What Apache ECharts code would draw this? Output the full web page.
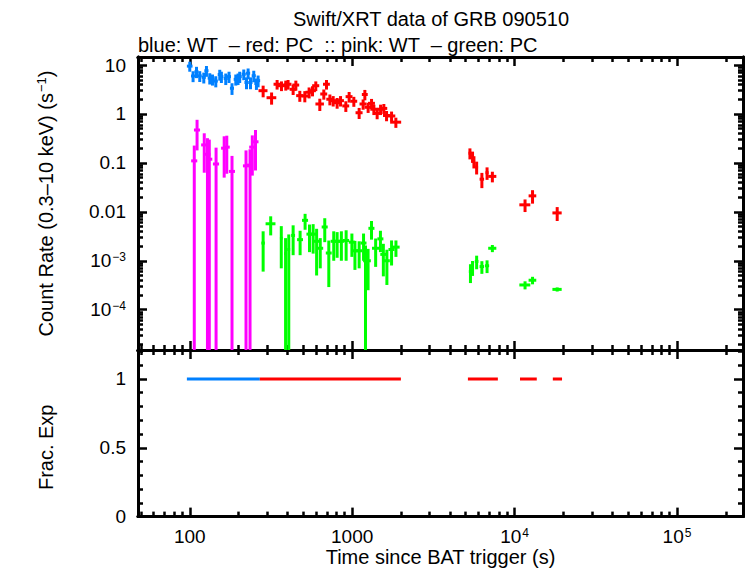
<!DOCTYPE html>
<html>
<head>
<meta charset="utf-8">
<script src="https://cdn.jsdelivr.net/npm/echarts@6/dist/echarts.min.js"></script>
<style>
html,body{margin:0;padding:0;background:#fff}
#chart{width:746px;height:568px}
</style>
</head>
<body>
<div id="chart"></div>
<script>
// [time (s), time half-width, rate, rate error]
var blueWT = [
    [100, 4, 9.5, 2.2], [104.8, 3, 5.97, 1.5], [110, 3.2, 7.3, 1.9], [115.2, 3.3, 6.0, 1.5],
    [122, 3.5, 5.6, 1.4], [126.7, 3.7, 7.65, 1.9], [132.8, 3.9, 5.4, 1.4], [138, 4, 5.1, 1.3],
    [144.6, 4.2, 4.7, 1.2], [153, 4.4, 6.4, 1.6], [156.6, 4.5, 5.8, 1.5], [166.6, 4.8, 5.3, 1.4],
    [174.5, 5, 5.8, 1.5], [182, 5.3, 3.35, 0.9], [192, 5.6, 5.1, 1.3], [198.3, 5.7, 5.3, 1.4],
    [203, 5.9, 5.8, 1.5], [215, 6.2, 6.5, 1.6], [223.6, 6.5, 4.4, 1.2], [228.7, 6.6, 6.8, 1.7],
    [236.5, 6.9, 4.4, 1.2], [247.8, 7.2, 6.05, 1.6], [257.3, 7.5, 4.2, 1.1], [263.5, 7.7, 4.8, 1.3]
];
var redPC = [
    [283, 18, 2.99, 0.8], [319, 22, 2.15, 0.6], [345, 17, 4.05, 0.9], [367, 18, 3.78, 0.85],
    [390, 19, 3.9, 0.9], [403, 20, 4.05, 0.9], [433, 21, 3.19, 0.75], [450, 22, 3.9, 0.9],
    [476, 24, 2.37, 0.6], [511, 25, 2.33, 0.6], [543, 27, 2.78, 0.7], [570, 28, 2.99, 0.7],
    [597, 30, 3.78, 0.85], [632, 38, 1.6, 0.45], [669, 33, 2.56, 0.6], [695, 34, 4.05, 0.9],
    [729, 36, 2.0, 0.5], [764, 38, 1.87, 0.45], [808, 40, 1.7, 0.42], [848, 42, 1.87, 0.45],
    [914, 45, 1.46, 0.36], [958, 47, 2.26, 0.55], [1024, 50, 1.82, 0.42], [1104, 55, 1.06, 0.27],
    [1168, 58, 1.6, 0.38], [1197, 50, 2.5, 0.6], [1254, 62, 1.37, 0.32], [1316, 65, 1.65, 0.38],
    [1360, 67, 1.25, 0.3], [1425, 70, 1.03, 0.25], [1496, 74, 1.25, 0.3], [1567, 77, 1.3, 0.3],
    [1628, 80, 0.93, 0.22], [1748, 95, 0.91, 0.21], [1858, 145, 0.68, 0.16],
    [5310, 110, 0.158, 0.04], [5510, 90, 0.135, 0.035], [5620, 90, 0.107, 0.03],
    [5840, 120, 0.082, 0.024], [6290, 200, 0.0465, 0.016], [6770, 150, 0.063, 0.018],
    [7300, 420, 0.053, 0.013], [11600, 900, 0.0139, 0.004], [12900, 700, 0.0212, 0.0065],
    [18300, 1200, 0.0095, 0.003]
];
var pinkWT = [
    [106.6, 4.6, 0.110, 0.116], [110.9, 4.8, 0.47, 0.29], [122.8, 5.3, 0.233, 0.17],
    [128.5, 5.5, 0.15, 0.17], [131.9, 5.7, 0.119, 0.18], [145.2, 6.3, 0.095, 0.11],
    [162.9, 7, 0.20, 0.15], [169, 7.3, 0.21, 0.15], [182, 7.8, 0.067, 0.072],
    [222, 9.5, 0.087, 0.093], [235, 10, 0.09, 0.10], [242.7, 10.5, 0.21, 0.155],
    [254, 11, 0.27, 0.20]
];
var greenPC = [
    [283, 7, 2.3e-3, 1.7e-3], [315, 22, 5.7e-3, 2.4e-3], [366, 7, 2.9e-3, 2.2e-3],
    [389, 8, 1.4e-3, 1.5e-3], [407, 8, 1.7e-3, 1.75e-3], [433, 12, 3.3e-3, 2.0e-3],
    [478, 20, 2.7e-3, 1.4e-3], [513, 22, 6.7e-3, 2.4e-3], [546, 23, 3.5e-3, 2.0e-3],
    [575, 25, 3.5e-3, 2.1e-3], [604, 25, 2.5e-3, 2.0e-3], [636, 27, 1.8e-3, 1.1e-3],
    [678, 29, 4.9e-3, 2.5e-3], [718, 30, 1.44e-3, 1.15e-3], [770, 33, 2.5e-3, 1.5e-3],
    [808, 35, 2.5e-3, 1.35e-3], [858, 37, 2.5e-3, 1.5e-3], [918, 40, 2.6e-3, 1.6e-3],
    [996, 43, 2.4e-3, 1.2e-3], [1040, 45, 1.6e-3, 0.95e-3], [1104, 47, 1.6e-3, 0.9e-3],
    [1175, 50, 2.3e-3, 1.3e-3], [1208, 40, 1.0e-3, 1.05e-3], [1253, 50, 1.0e-3, 0.75e-3],
    [1315, 56, 4.6e-3, 1.9e-3], [1395, 70, 1.8e-3, 1.05e-3], [1493, 64, 2.8e-3, 1.3e-3],
    [1556, 66, 1.35e-3, 0.87e-3], [1636, 70, 1.0e-3, 0.68e-3], [1748, 75, 1.7e-3, 0.9e-3],
    [1860, 100, 1.9e-3, 0.7e-3],
    [5350, 120, 6.0e-4, 2.5e-4], [5510, 100, 7.4e-4, 2.5e-4], [5840, 150, 9.7e-4, 3.0e-4],
    [6290, 200, 7.6e-4, 2.2e-4], [6770, 200, 7.9e-4, 2.3e-4], [7300, 420, 1.8e-3, 0.3e-3],
    [11600, 900, 3.2e-4, 0.6e-4], [12900, 700, 4.0e-4, 0.7e-4], [18300, 1200, 2.6e-4, 0.25e-4]
];
// [start, end, fractional exposure]
var fracBlue = [[96, 270, 1]];
var fracRed = [[270, 1995, 1], [5160, 7890, 1], [10800, 13700, 1], [17200, 19600, 1]];

var timeTicks = [100, 1000, 1e4, 1e5];
var timeLabels = ['100', '1000', '10{s|4}', '10{s|5}'];
var timeMinor = [50, 60, 70, 80, 90, 200, 300, 400, 500, 600, 700, 800, 900,
    2000, 3000, 4000, 5000, 6000, 7000, 8000, 9000,
    20000, 30000, 40000, 50000, 60000, 70000, 80000, 90000, 200000];
var rateTicks = [10, 1, 0.1, 0.01, 1e-3, 1e-4];
var rateLabels = ['10', '1', '0.1', '0.01', '10{s|−3}', '10{s|−4}'];
var rateDecades = [1e-5, 1e-4, 1e-3, 0.01, 0.1, 1];
var rateSteps = [2, 3, 4, 5, 6, 7, 8, 9];
var fracTicks = [0, 0.5, 1];
var fracMinor = [0.1, 0.2, 0.3, 0.4, 0.6, 0.7, 0.8, 0.9, 1.1, 1.2];

var X_MIN = 48, X_MAX = 255000;
var Y_MIN = 1.5e-5, Y_MAX = 14.6;
var FONT = 'Liberation Sans';

var rateMinor = [];
rateDecades.forEach(function(d){
    rateSteps.forEach(function(s){ rateMinor.push(s * d); });
});

function pickLabel(v, ticks, labels){
    for (var i = 0; i < ticks.length; i++) {
        if (Math.abs(Math.log10(v) - Math.log10(ticks[i])) < 0.01) return labels[i];
    }
    return '';
}

var richSup = {
    s: {fontSize: 12, fontFamily: FONT, color: '#000', verticalAlign: 'top', padding: [0, 0, 8, 1]}
};

function timeAxis(grid, pos, ticks, len, labelled){
    return {
        type: 'log', logBase: 10, gridIndex: grid, position: pos, min: X_MIN, max: X_MAX,
        axisLine: {show: true, onZero: false, lineStyle: {color: '#000', width: 3}},
        axisTick: {show: true, inside: true, length: len, customValues: ticks,
            lineStyle: {color: '#000', width: 2.5}},
        axisLabel: {show: labelled, customValues: timeTicks, margin: 10, color: '#000',
            fontSize: 19, fontFamily: FONT,
            formatter: function(v){ return pickLabel(v, timeTicks, timeLabels); },
            rich: richSup},
        splitLine: {show: false}
    };
}
function rateAxis(pos, ticks, len, labelled){
    return {
        type: 'log', logBase: 10, gridIndex: 0, position: pos, min: Y_MIN, max: Y_MAX,
        axisLine: {show: true, onZero: false, lineStyle: {color: '#000', width: 3}},
        axisTick: {show: true, inside: true, length: len, customValues: ticks,
            lineStyle: {color: '#000', width: 2.5}},
        axisLabel: {show: labelled, customValues: rateTicks, margin: 12, color: '#000',
            fontSize: 19, fontFamily: FONT,
            formatter: function(v){ return pickLabel(v, rateTicks, rateLabels); },
            rich: richSup},
        splitLine: {show: false}
    };
}
function fracAxis(pos, ticks, len, labelled){
    return {
        type: 'value', gridIndex: 1, position: pos, min: 0, max: 1.21,
        axisLine: {show: true, onZero: false, lineStyle: {color: '#000', width: 3}},
        axisTick: {show: true, inside: true, length: len, customValues: ticks,
            lineStyle: {color: '#000', width: 2.5}},
        axisLabel: {show: labelled, customValues: fracTicks, margin: 12, color: '#000',
            fontSize: 19, fontFamily: FONT},
        splitLine: {show: false}
    };
}

function renderErr(params, api){
    var t = api.value(0), dt = api.value(1), r = api.value(2), dr = api.value(3);
    var lo = r - dr > 0 ? r - dr : Y_MIN;
    var a = api.coord([t - dt, r]), b = api.coord([t + dt, r]);
    var c = api.coord([t, r + dr]), d = api.coord([t, lo]);
    var style = {stroke: api.visual('color'), lineWidth: 3};
    return {type: 'group', children: [
        {type: 'line', shape: {x1: a[0], y1: a[1], x2: b[0], y2: b[1]}, style: style},
        {type: 'line', shape: {x1: c[0], y1: c[1], x2: d[0], y2: d[1]}, style: style}
    ]};
}
function renderFrac(params, api){
    var a = api.coord([api.value(0), api.value(2)]);
    var b = api.coord([api.value(1), api.value(2)]);
    return {type: 'line', shape: {x1: a[0], y1: a[1], x2: b[0], y2: b[1]},
        style: {stroke: api.visual('color'), lineWidth: 3}};
}
function errSeries(name, data, color){
    return {name: name, type: 'custom', xAxisIndex: 0, yAxisIndex: 0, clip: true,
        renderItem: renderErr, encode: {x: 0, y: 2}, itemStyle: {color: color},
        data: data, silent: true};
}
function fracSeries(name, data, color){
    return {name: name, type: 'custom', xAxisIndex: 4, yAxisIndex: 4, clip: true,
        renderItem: renderFrac, encode: {x: [0, 1], y: 2}, itemStyle: {color: color},
        data: data, silent: true};
}

var chart = echarts.init(document.getElementById('chart'), null, {renderer: 'svg'});
var option = {
    backgroundColor: '#fff',
    animation: false,
    textStyle: {fontFamily: FONT},
    graphic: [
        {type: 'text', x: 431, y: 19, style: {text: 'Swift/XRT data of GRB 090510',
            font: '20px "Liberation Sans"', fill: '#000', textAlign: 'center', textVerticalAlign: 'middle',
            align: 'center', verticalAlign: 'middle'}},
        {type: 'text', x: 138, y: 45, style: {text: 'blue: WT  – red: PC  :: pink: WT  – green: PC',
            font: '20px "Liberation Sans"', fill: '#000', textAlign: 'left', textVerticalAlign: 'middle',
            align: 'left', verticalAlign: 'middle'}}
    ],
    grid: [
        {left: 138, right: 3, top: 57, height: 293},
        {left: 138, right: 3, top: 350, height: 168}
    ],
    xAxis: [
        timeAxis(0, 'bottom', timeTicks, 9, false),
        timeAxis(0, 'bottom', timeMinor, 5, false),
        timeAxis(0, 'top', timeTicks, 9, false),
        timeAxis(0, 'top', timeMinor, 5, false),
        Object.assign(timeAxis(1, 'bottom', timeTicks, 9, true), {
            name: 'Time since BAT trigger (s)', nameLocation: 'middle', nameGap: 30,
            nameTextStyle: {fontSize: 20, fontFamily: FONT, color: '#000'}}),
        timeAxis(1, 'bottom', timeMinor, 5, false),
        timeAxis(1, 'top', timeTicks, 9, false),
        timeAxis(1, 'top', timeMinor, 5, false)
    ],
    yAxis: [
        Object.assign(rateAxis('left', rateTicks, 9, true), {
            name: '{a|Count Rate (0.3–10 keV) (s}{s|−1}{a|)}', nameLocation: 'middle', nameGap: 82,
            nameRotate: 90,
            nameTextStyle: {color: '#000', rich: {
                a: {fontSize: 20, fontFamily: FONT, color: '#000'},
                s: {fontSize: 13, fontFamily: FONT, color: '#000', verticalAlign: 'top', padding: [0, 0, 8, 1]}}}}),
        rateAxis('left', rateMinor, 5, false),
        rateAxis('right', rateTicks, 9, false),
        rateAxis('right', rateMinor, 5, false),
        Object.assign(fracAxis('left', fracTicks, 9, true), {
            name: 'Frac. Exp', nameLocation: 'middle', nameGap: 82, nameRotate: 90,
            nameTextStyle: {fontSize: 20, fontFamily: FONT, color: '#000', padding: [0, 28, 0, 0]}}),
        fracAxis('left', fracMinor, 5, false),
        fracAxis('right', fracTicks, 9, false),
        fracAxis('right', fracMinor, 5, false)
    ],
    series: [
        errSeries('blue WT', blueWT, '#0080ff'),
        errSeries('red PC', redPC, '#ff0000'),
        errSeries('pink WT', pinkWT, '#ff00ff'),
        errSeries('green PC', greenPC, '#00ff00'),
        fracSeries('frac WT', fracBlue, '#0080ff'),
        fracSeries('frac PC', fracRed, '#ff0000')
    ]
};
chart.setOption(option);
</script>
</body>
</html>
